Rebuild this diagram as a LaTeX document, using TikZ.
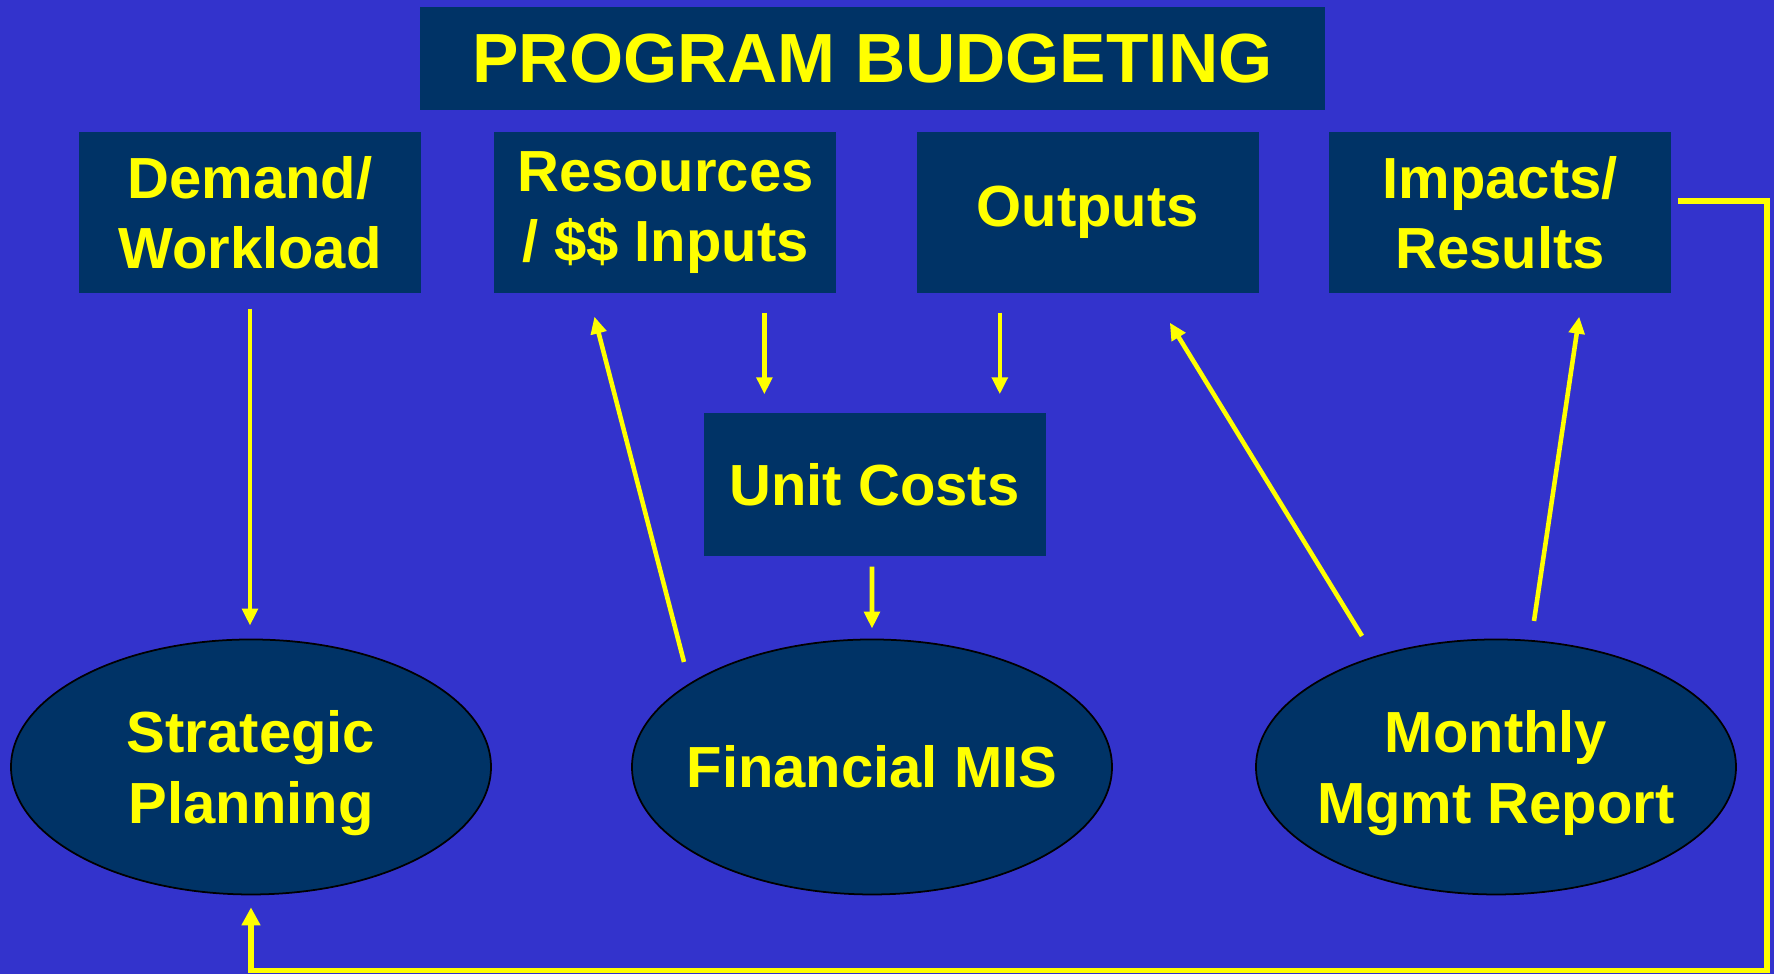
\documentclass[tikz,border=0pt]{standalone}
\usepackage{fontspec}
\setmainfont{Liberation Sans}
\usepackage{xcolor}
\usetikzlibrary{arrows.meta,positioning,shapes.geometric,calc}
\definecolor{pbBack}{HTML}{3333CC}
\definecolor{pbNavy}{HTML}{003366}
\definecolor{pbYellow}{HTML}{FFFF00}
\tikzset{
  % Heading box (navy, wide)
  headbox/.style={rectangle,inner sep=0pt,
    minimum width=9.05cm,minimum height=1.03cm,
    fill=pbNavy,text=pbYellow,
    font=\fontsize{19.8}{24}\selectfont\bfseries},
  % Navy step box
  nbox/.style={rectangle,inner sep=0pt,
    minimum width=3.42cm,minimum height=1.61cm,
    align=center,fill=pbNavy,text=pbYellow,
    font=\fontsize{16.5}{20}\selectfont\bfseries},
  % Navy oval with thin black rim (negative xsep keeps the size fixed)
  obox/.style={ellipse,inner ysep=0pt,inner xsep=-0.6cm,
    minimum width=4.8cm,minimum height=2.55cm,text depth=0pt,
    align=center,draw=black,line width=0.5pt,fill=pbNavy,text=pbYellow,
    font=\fontsize{16.5}{20}\selectfont\bfseries},
  % Arrows
  arr/.style={-{Triangle[length=1.7mm,width=1.55mm]},line width=1.3pt,color=pbYellow},
  arrloop/.style={-{Triangle[length=1.8mm,width=1.8mm]},line width=1.6pt,color=pbYellow},
}
\begin{document}
\begin{tikzpicture}
  \fill[pbBack] (0,0) rectangle (17.74,9.74);
  \useasboundingbox (0,0) rectangle (17.74,9.74);

  \node[headbox] (title) at (8.725,9.155) {PROGRAM BUDGETING};

  \node[nbox] (demand) at (2.50,7.615) {Demand/\\Workload};
  \node[nbox,right=0.72cm of demand] (res) {Resources\\/ \$\$ Inputs};
  \node[nbox,right=0.79cm of res] (outp) {Outputs};
  \node[nbox,right=0.69cm of outp] (imp) {Impacts/\\Results};

  \node[nbox,minimum height=1.43cm] (unit) at (8.745,4.895) {Unit Costs};

  \node[obox] (strat) at (2.51,2.07) {Strategic\\Planning};
  \node[obox] (fin) at (8.72,2.07) {Financial MIS};
  \node[obox] (mgmt) at (14.96,2.07) {Monthly\\Mgmt Report};

  \coordinate (loop) at (17.67,0.035);

  \draw[arr,shorten <=1.5mm,shorten >=1.3mm] (demand.south) -- (demand.south |- strat.north);
  \draw[arr,shorten <=1.9mm,shorten >=1.8mm] ([xshift=9.9mm]res.south) -- ([xshift=9.9mm]res.south |- unit.north);
  \draw[arr,shorten <=1.9mm,shorten >=1.8mm] ([xshift=-8.8mm]outp.south) -- ([xshift=-8.8mm]outp.south |- unit.north);
  \draw[arr,shorten <=1mm,shorten >=1mm] ([xshift=-0.25mm]unit.south) -- (fin.north);
  \draw[arr] ([shift={(-1.88,1.05)}]fin.center) -- ([shift={(-0.71,-0.23)}]res.south);
  \draw[arr] ([shift={(-1.34,1.31)}]mgmt.center) -- ([shift={(0.82,-0.29)}]outp.south);
  \draw[arr] ([shift={(0.38,1.46)}]mgmt.center) -- ([shift={(0.79,-0.23)}]imp.south);
  \draw[arrloop,shorten >=1.2mm] ([shift={(0.06,0.115)}]imp.east) -| (loop) -| (strat.south);
\end{tikzpicture}
\end{document}
